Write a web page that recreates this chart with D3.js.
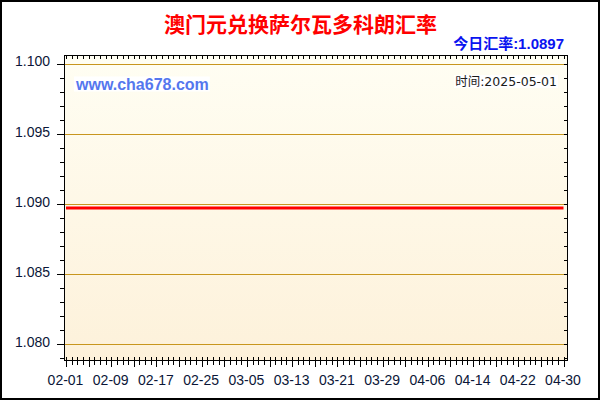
<!doctype html>
<html>
<head>
<meta charset="UTF-8">
<title>澳门元兑换萨尔瓦多科朗汇率</title>
<script src="https://cdn.jsdelivr.net/npm/d3@7"></script>
<style>
  html, body { margin: 0; padding: 0; background: #fff; }
  svg { display: block; }
  .axis line { shape-rendering: crispEdges; }
</style>
</head>
<body>
<div id="chart"></div>
<script>
  var title = "澳门元兑换萨尔瓦多科朗汇率";
  var rateLabel = "今日汇率:1.0897";
  var siteLabel = "www.cha678.com";
  var timeLabel = "时间:2025-05-01";
  var year = 2025;

  // tick labels on the date axis, one every 8 days
  var dateLabels = ["02-01", "02-09", "02-17", "02-25", "03-05", "03-13",
                    "03-21", "03-29", "04-06", "04-14", "04-22", "04-30"];
  // rate read at each labelled date (flat line)
  var rates = [1.0897, 1.0897, 1.0897, 1.0897, 1.0897, 1.0897,
               1.0897, 1.0897, 1.0897, 1.0897, 1.0897, 1.0897];
  var yTicks = [1.080, 1.085, 1.090, 1.095, 1.100];

  var W = 600, H = 400;
  var plot = { left: 64, right: 568, top: 56, bottom: 361 };

  var parse = d3.timeParse("%Y-%m-%d");
  var dates = dateLabels.map(function(d) { return parse(year + "-" + d); });

  var x = d3.scaleTime().domain(d3.extent(dates)).range([66, 563.5]);
  var y = d3.scaleLinear().domain([1.080, 1.100]).range([344.3, 63.5]);

  var days = d3.timeDay.range(dates[0], d3.timeDay.offset(dates[dates.length - 1], 1));
  var majorDays = days.filter(function(d, i) { return i % 4 === 0; });
  var minorVals = d3.range(1079, 1101).map(function(v) { return v / 1000; });

  var svg = d3.select("#chart").append("svg")
    .attr("width", W)
    .attr("height", H);

  var grad = svg.append("defs").append("linearGradient")
    .attr("id", "bg")
    .attr("x1", 0).attr("y1", 0).attr("x2", 0).attr("y2", 1);
  grad.append("stop").attr("offset", "0%").attr("stop-color", "#fffef3");
  grad.append("stop").attr("offset", "100%").attr("stop-color", "#fdf1da");

  svg.append("rect")
    .attr("x", 0).attr("y", 0).attr("width", W).attr("height", H)
    .attr("fill", "#fff");

  // plot background
  svg.append("rect")
    .attr("x", plot.left).attr("y", plot.top)
    .attr("width", plot.right - plot.left).attr("height", plot.bottom - plot.top)
    .attr("fill", "url(#bg)");

  // grid lines
  svg.append("g").selectAll("line")
    .data(yTicks)
    .join("line")
      .attr("x1", plot.left).attr("x2", plot.right)
      .attr("y1", function(d) { return Math.round(y(d)) + 0.5; })
      .attr("y2", function(d) { return Math.round(y(d)) + 0.5; })
      .attr("stroke", "#c8961e")
      .attr("stroke-width", 1);

  // rate line
  var line = d3.line()
    .x(function(d, i) { return x(dates[i]); })
    .y(function(d) { return y(d); });

  svg.append("path")
    .datum(rates)
    .attr("d", line)
    .attr("fill", "none")
    .attr("stroke", "#ff0000")
    .attr("stroke-width", 3);

  // plot frame
  svg.append("rect")
    .attr("x", plot.left + 0.5).attr("y", plot.top - 0.5)
    .attr("width", plot.right - plot.left - 1).attr("height", plot.bottom - plot.top)
    .attr("fill", "none")
    .attr("stroke", "#000")
    .attr("stroke-width", 1);

  function clean(g) {
    g.select(".domain").remove();
    g.selectAll("line").attr("stroke", "#000");
  }

  // top ticks (inside)
  svg.append("g").attr("class", "axis")
    .attr("transform", "translate(0," + plot.top + ")")
    .call(d3.axisBottom(x).tickValues(days).tickSize(3).tickFormat(""))
    .call(clean);

  // right ticks (inside)
  svg.append("g").attr("class", "axis")
    .attr("transform", "translate(" + (plot.right - 1) + ",0)")
    .call(d3.axisLeft(y).tickValues(minorVals).tickSize(3).tickFormat(""))
    .call(clean);

  // left minor ticks
  svg.append("g").attr("class", "axis")
    .attr("transform", "translate(" + plot.left + ",0)")
    .call(d3.axisLeft(y).tickValues(minorVals).tickSize(4).tickFormat(""))
    .call(clean);

  // left major ticks + labels
  svg.append("g").attr("class", "axis")
    .attr("transform", "translate(" + (plot.left + 1) + ",0)")
    .call(d3.axisLeft(y).tickValues(yTicks).tickSize(8).tickPadding(7)
      .tickFormat(d3.format(".3f")))
    .call(clean)
    .call(function(g) {
      g.selectAll("text")
        .attr("dy", "0.17em")
        .attr("fill", "#0b1638")
        .style("font-family", "'Liberation Sans', Arial, sans-serif")
        .style("font-size", "14px");
    });

  // bottom minor ticks (cross the frame)
  svg.append("g").attr("class", "axis")
    .attr("transform", "translate(0," + (plot.bottom - 1) + ")")
    .call(d3.axisBottom(x).tickValues(days).tickSize(5).tickFormat(""))
    .call(clean)
    .call(function(g) { g.selectAll("line").attr("y1", -3); });

  // bottom major ticks + labels
  svg.append("g").attr("class", "axis")
    .attr("transform", "translate(0," + (plot.bottom - 1) + ")")
    .call(d3.axisBottom(x).tickValues(majorDays).tickSize(7).tickPadding(8)
      .tickFormat(function(d, i) { return i % 2 === 0 ? d3.timeFormat("%m-%d")(d) : ""; }))
    .call(clean)
    .call(function(g) {
      g.selectAll("line").attr("y1", -3);
      g.selectAll("text")
        .attr("dx", "-1")
        .attr("fill", "#0b1638")
        .style("font-family", "'Liberation Sans', Arial, sans-serif")
        .style("font-size", "14px");
    });

  // title
  svg.append("text")
    .attr("x", 300.5).attr("y", 23)
    .attr("text-anchor", "middle")
    .attr("dominant-baseline", "central")
    .attr("fill", "#ff0000")
    .style("font-family", "'Noto Sans CJK SC', sans-serif")
    .style("font-weight", "bold")
    .style("font-size", "21px")
    .text(title);

  svg.append("text")
    .attr("x", 564).attr("y", 43)
    .attr("text-anchor", "end")
    .attr("dominant-baseline", "central")
    .attr("fill", "#0a14f0")
    .style("font-family", "'Liberation Sans', 'Noto Sans CJK SC', sans-serif")
    .style("font-weight", "bold")
    .style("font-size", "15px")
    .text(rateLabel);

  // labels on white boxes inside the plot
  function boxed(tx, ty, anchor, txt, color, size, weight, family) {
    var g = svg.append("g");
    var box = g.append("rect").attr("fill", "#fff");
    var t = g.append("text")
      .attr("x", tx).attr("y", ty)
      .attr("text-anchor", anchor)
      .attr("dominant-baseline", "central")
      .attr("fill", color)
      .style("font-family", family)
      .style("font-weight", weight)
      .style("font-size", size)
      .text(txt);
    var b = t.node().getBBox();
    box.attr("x", b.x - 1).attr("y", b.y + 1)
      .attr("width", b.width + 2).attr("height", b.height - 2);
  }

  boxed(76, 84, "start", siteLabel, "#5577ee", "16px", "bold",
    "'Liberation Sans', Arial, sans-serif");
  boxed(557, 81.5, "end", timeLabel, "#1a1a1a", "12.5px", "normal",
    "'DejaVu Sans', 'Noto Sans CJK SC', sans-serif");

  // outer border
  svg.append("rect")
    .attr("x", 1).attr("y", 1).attr("width", W - 2).attr("height", H - 2)
    .attr("fill", "none")
    .attr("stroke", "#000")
    .attr("stroke-width", 2);
</script>
</body>
</html>
